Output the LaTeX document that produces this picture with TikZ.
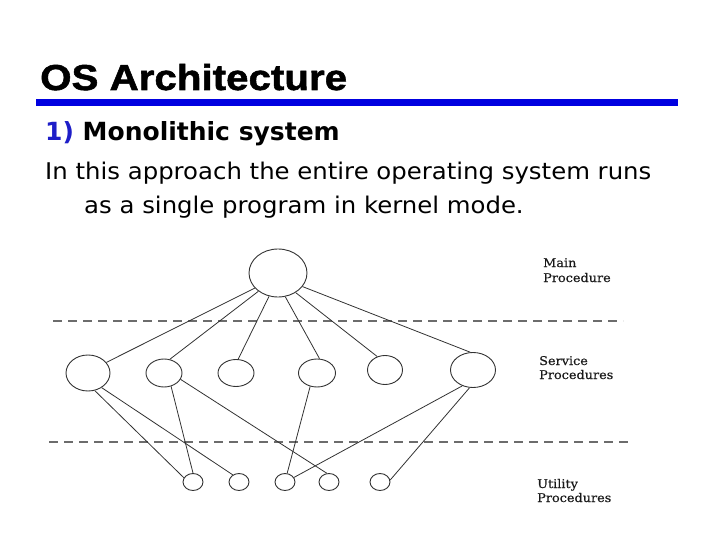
\documentclass[tikz,border=0pt]{standalone}
\usepackage{fontspec}
\usetikzlibrary{shapes.geometric}
\newfontfamily\titlefont[FakeStretch=1.12, FakeBold=1.5]{Liberation Sans}
\newfontfamily\headfont{DejaVu Sans}
\newfontfamily\bodyfont[FakeStretch=1.06]{DejaVu Sans}
\newfontfamily\labelfont[FakeStretch=1.07, FakeBold=0.4]{DejaVu Serif}
\definecolor{barblue}{RGB}{0,0,224}
\definecolor{numblue}{RGB}{30,30,200}
\definecolor{inkgray}{RGB}{50,50,50}
\begin{document}
\begin{tikzpicture}[x=1pt,y=-1pt,
  proc/.style={shape=ellipse, draw=inkgray, line width=0.9pt, inner sep=0pt},
  link/.style={draw=inkgray, line width=0.8pt},
  sep/.style={draw=gray!85!black, line width=1.1pt, dash pattern=on 9pt off 6pt},
  lab/.style={anchor=base west, inner sep=0pt, font=\labelfont\fontsize{12}{14}\selectfont, text=black!90}
]
\useasboundingbox (0,0) rectangle (720,540);
% title
\node[anchor=base west, inner sep=0pt, font=\titlefont\bfseries\fontsize{36}{40}\selectfont] (title) at (40,90) {OS Architecture};
\fill[barblue] (36,99) rectangle (678,106);
% text
\node[anchor=base west, inner sep=0pt, font=\headfont\bfseries\fontsize{25}{30}\selectfont] (head) at (45,141) {{\color{numblue}1)} Monolithic system};
\node[anchor=base west, inner sep=0pt, font=\bodyfont\fontsize{23}{28}\selectfont] (l1) at (45,180) {In this approach the entire operating system runs};
\node[anchor=base west, inner sep=0pt, font=\bodyfont\fontsize{23}{28}\selectfont] (l2) at (84,214) {as a single program in kernel mode.};
% separators
\coordinate (d1a) at (53,321); \coordinate (d1b) at (623,321);
\coordinate (d2a) at (49,442); \coordinate (d2b) at (628,442);
\draw[sep] (d1a) -- (d1b);
\draw[sep] (d2a) -- (d2b);
% nodes
\node[proc, minimum width=58pt, minimum height=48pt] (m) at (278,273) {};
\node[proc, minimum width=44pt, minimum height=36pt] (s1) at (88,373) {};
\node[proc, minimum width=36pt, minimum height=28pt] (s2) at (164,373) {};
\node[proc, minimum width=36pt, minimum height=27pt] (s3) at (236,373) {};
\node[proc, minimum width=37pt, minimum height=28pt] (s4) at (317,373) {};
\node[proc, minimum width=35pt, minimum height=29pt] (s5) at (385,370) {};
\node[proc, minimum width=45pt, minimum height=35pt] (s6) at (473,370) {};
\node[proc, minimum width=20pt, minimum height=17pt] (u1) at (193,482) {};
\node[proc, minimum width=20pt, minimum height=17pt] (u2) at (239,482) {};
\node[proc, minimum width=20pt, minimum height=17pt] (u3) at (285,482) {};
\node[proc, minimum width=20pt, minimum height=17pt] (u4) at (329,482) {};
\node[proc, minimum width=20pt, minimum height=17pt] (u5) at (380,482) {};
% main -> service
\draw[link] (m.213) -- (s1.30);
\draw[link] (m.223) -- (s2.67);
\draw[link] (m.249) -- (s3.81);
\draw[link] (m.287) -- (s4.80);
\draw[link] (m.312) -- (s5.120);
\draw[link] (m.331) -- (s6.99);
% service -> utility
\draw[link] (s1.291) -- (u1.155);
\draw[link] (s1.313) -- (u2.131);
\draw[link] (s2.298) -- (u1.90);
\draw[link] (s2.339) -- (u4.104);
\draw[link] (s4.243) -- (u3.76);
\draw[link] (s6.236) -- (u3.27);
\draw[link] (s6.259) -- (u5.11);
% labels
\node[lab] (lm1) at (543,267) {Main};
\node[lab] (lm2) at (543,282) {Procedure};
\node[lab] (ls1) at (539,365) {Service};
\node[lab] (ls2) at (539,379) {Procedures};
\node[lab] (lu1) at (537,488) {Utility};
\node[lab] (lu2) at (537,502) {Procedures};
\end{tikzpicture}
\end{document}
